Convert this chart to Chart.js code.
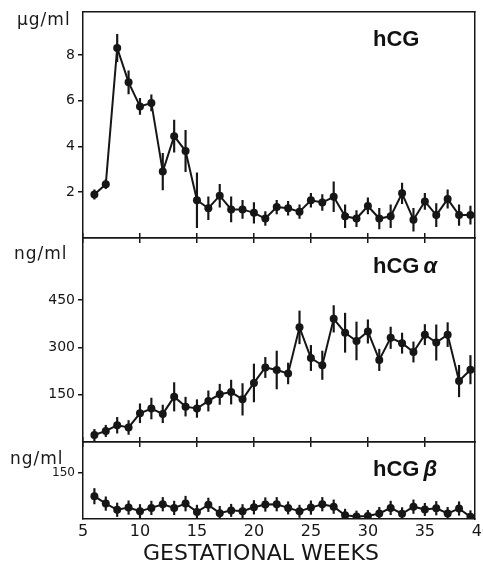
<!DOCTYPE html>
<html>
<head>
<meta charset="utf-8">
<script src="https://cdn.jsdelivr.net/npm/chart.js@4"></script>
<style>
  body { margin: 0; background: #fff; }
  #wrap { position: relative; width: 483px; height: 565px; overflow: hidden; background: #fff; }
  #wrap canvas { position: absolute; left: 0; top: 0; }
  .unit { position: absolute; font-family: "DejaVu Sans", sans-serif; font-size: 17px; letter-spacing: 1px; color: #1a1a1a; line-height: 1; white-space: nowrap; }
  .name { position: absolute; font-family: "Liberation Sans", Arial, sans-serif; font-weight: bold; font-size: 22px; color: #111; line-height: 1; white-space: nowrap; }
  .name i { margin-left: 4px; }
  .xtitle { position: absolute; left: 143px; top: 542px; font-family: "DejaVu Sans", sans-serif; font-size: 22px; color: #161616; line-height: 1; white-space: nowrap; }
</style>
</head>
<body>
<div id="wrap">
  <canvas id="hcgChart" width="483" height="565"></canvas>
  <canvas id="alphaChart" width="483" height="565"></canvas>
  <canvas id="betaChart" width="483" height="565"></canvas>
  <div class="unit" style="left:17px; top:11px;">µg/ml</div>
  <div class="unit" style="left:14px; top:245px;">ng/ml</div>
  <div class="unit" style="left:10px; top:450px;">ng/ml</div>
  <div class="name" style="left:373px; top:28px;">hCG</div>
  <div class="name" style="left:373px; top:255px;">hCG<i>α</i></div>
  <div class="name" style="left:373px; top:458px;">hCG<i>β</i></div>
  <div class="xtitle">GESTATIONAL WEEKS</div>
</div>
<script>
// gestational weeks (x) and the three measured series with their error bars
const weeks = [6, 7, 8, 9, 10, 11, 12, 13, 14, 15, 16, 17, 18, 19, 20, 21, 22,
  23, 24, 25, 26, 27, 28, 29, 30, 31, 32, 33, 34, 35, 36, 37, 38, 39];

const hcgValues = [1.9, 2.35, 8.3, 6.8, 5.75, 5.9, 2.9, 4.45, 3.8, 1.65, 1.3, 1.85,
  1.25, 1.25, 1.1, 0.85, 1.35, 1.3, 1.15, 1.65, 1.55, 1.8, 0.95, 0.85, 1.4, 0.85,
  0.95, 1.95, 0.8, 1.6, 1.0, 1.7, 1.0, 1.0];
const hcgErrors = [0.2, 0.2, 0.6, 0.5, 0.35, 0.35, 0.8, 0.7, 0.9, 1.2, 0.5, 0.5,
  0.55, 0.4, 0.45, 0.3, 0.3, 0.3, 0.3, 0.3, 0.35, 0.65, 0.5, 0.35, 0.35, 0.45,
  0.5, 0.45, 0.5, 0.35, 0.5, 0.4, 0.45, 0.4];

const alphaValues = [22, 35, 53, 46, 91, 106, 89, 143, 112, 106, 130, 151, 158,
  135, 187, 236, 228, 217, 363, 266, 243, 390, 346, 320, 350, 260, 330, 313, 285,
  340, 315, 340, 193, 229];
const alphaErrors = [18, 18, 25, 22, 30, 33, 28, 45, 30, 28, 32, 32, 38, 50, 60,
  32, 60, 33, 52, 40, 45, 42, 62, 60, 37, 34, 34, 32, 32, 32, 56, 38, 50, 45];

const betaValues = [74, 50, 30, 37, 25, 36, 48, 36, 50, 23, 46, 19, 28, 25, 38, 47,
  48, 36, 25, 37, 48, 40, 12, 8, 10, 18, 36, 17, 40, 31, 35, 18, 34, 7];
const betaErrors = [25, 22, 22, 22, 22, 22, 22, 22, 24, 22, 22, 22, 20, 22, 22,
  22, 22, 20, 20, 22, 22, 22, 20, 18, 18, 20, 22, 20, 22, 20, 22, 20, 22, 20];

const weekTicks = [5, 10, 15, 20, 25, 30, 35, 40];
const hcgTicks = [2, 4, 6, 8];
const alphaTicks = [150, 300, 450];
const betaTicks = [150];

const ink = "#161616";
const axisFont = "'DejaVu Sans', sans-serif";
const weekMax = 39.4;

function makePanel(canvasId, values, errors, cfg) {
  const points = weeks.map((w, i) => ({ x: w, y: values[i] }));
  const bars = weeks.map((w, i) => ({ x: w, y: [values[i] - errors[i], values[i] + errors[i]] }));

  // tick marks only inside the axis range, labels may run past it (the clipped "40")
  const markTicks = (s) => { s.ticks = weekTicks.filter((v) => v <= weekMax).map((v) => ({ value: v })); };

  return new Chart(document.getElementById(canvasId), {
    type: "line",
    data: {
      datasets: [
        {
          type: "line",
          data: points,
          borderColor: ink,
          borderWidth: 2,
          pointRadius: 4,
          pointBackgroundColor: ink,
          pointBorderWidth: 0,
          tension: 0,
          order: 0,
        },
        {
          type: "bar",
          data: bars,
          backgroundColor: ink,
          borderWidth: 0,
          barThickness: 1.5,
          order: 1,
        },
      ],
    },
    options: {
      responsive: false,
      animation: false,
      events: [],
      layout: { padding: { top: cfg.top, bottom: cfg.bottom, left: 0, right: 8 } },
      plugins: { legend: { display: false }, tooltip: { enabled: false } },
      scales: {
        x: {
          type: "linear",
          position: "bottom",
          min: 5,
          max: weekMax,
          offset: false,
          afterBuildTicks: cfg.showWeeks
            ? (s) => { s.ticks = weekTicks.map((v) => ({ value: v })); }
            : markTicks,
          afterFit: (s) => {
            s.height = cfg.xHeight;
            // keep the plot frame where it is, even if "40" hangs over the edge
            s.paddingLeft = 0;
            s.paddingRight = 0;
          },
          border: { display: true, color: ink, width: 1.5 },
          grid: { offset: false, drawOnChartArea: false, drawTicks: cfg.bottomTicks, tickLength: 5, color: ink, lineWidth: 1.5 },
          ticks: {
            display: cfg.showWeeks,
            autoSkip: false,
            maxRotation: 0,
            padding: 3,
            color: ink,
            font: { family: axisFont, size: 16 },
          },
        },
        xTop: {
          type: "linear",
          position: "top",
          min: 5,
          max: weekMax,
          offset: false,
          afterBuildTicks: markTicks,
          afterFit: (s) => { s.height = 0; },
          border: { display: true, color: ink, width: 1.5 },
          grid: { offset: false, drawOnChartArea: false, drawTicks: cfg.topTicks, tickLength: 5, color: ink, lineWidth: 1.5 },
          ticks: { display: false },
        },
        y: {
          type: "linear",
          position: "left",
          min: 0,
          max: cfg.yMax,
          afterBuildTicks: (s) => { s.ticks = cfg.yTicks.map((v) => ({ value: v })); },
          afterFit: (s) => { s.width = 83; },
          border: { display: true, color: ink, width: 1.5 },
          grid: { drawOnChartArea: false, tickLength: 5, color: ink, lineWidth: 1.5 },
          ticks: { color: ink, padding: 3, font: { family: axisFont, size: cfg.yFont } },
        },
        yRight: {
          type: "linear",
          position: "right",
          min: 0,
          max: cfg.yMax,
          afterFit: (s) => { s.width = 0; },
          border: { display: true, color: ink, width: 1.5 },
          grid: { display: false },
          ticks: { display: false },
        },
      },
    },
  });
}

makePanel("hcgChart", hcgValues, hcgErrors, {
  top: 10, bottom: 327, xHeight: 0, yMax: 9.9, yTicks: hcgTicks, yFont: 14,
  bottomTicks: true, topTicks: false, showWeeks: false,
});
makePanel("alphaChart", alphaValues, alphaErrors, {
  top: 238, bottom: 123, xHeight: 0, yMax: 646, yTicks: alphaTicks, yFont: 14,
  bottomTicks: true, topTicks: true, showWeeks: false,
});
makePanel("betaChart", betaValues, betaErrors, {
  top: 442, bottom: 0, xHeight: 46, yMax: 250, yTicks: betaTicks, yFont: 12,
  bottomTicks: false, topTicks: true, showWeeks: true,
});
</script>
</body>
</html>
